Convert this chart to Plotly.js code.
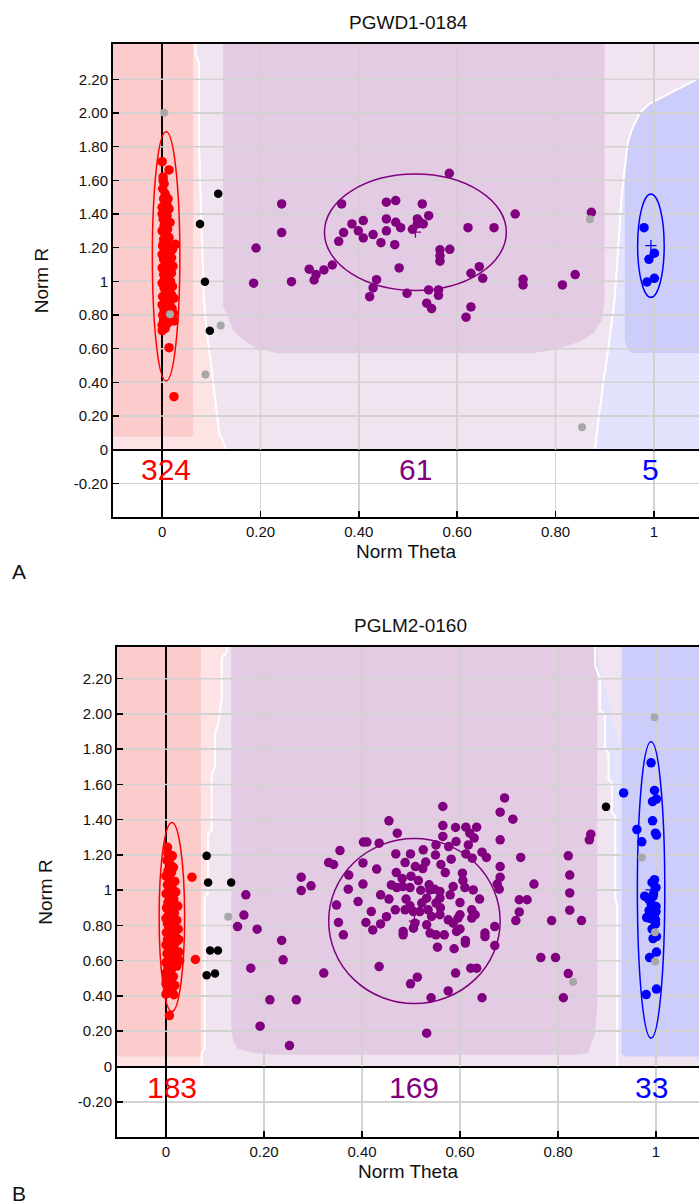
<!DOCTYPE html>
<html><head><meta charset="utf-8">
<script src="https://cdn.plot.ly/plotly-3.0.1.min.js"></script>
<style>html,body{margin:0;padding:0;background:#fff}#chart{width:699px;height:1204px}</style>
</head><body><div id="chart"></div><script>
// ---------------- Panel A : PGWD1-0184 ----------------
const A_title = 'PGWD1-0184';
const A_red_x = [0.000,0.014,0.002,0.004,0.001,0.006,0.003,0.012,0.008,0.000,0.014,0.005,0.010,0.002,0.007,0.016,0.004,0.011,0.000,0.006,0.014,0.003,0.009,0.027,0.001,0.012,0.021,0.005,0.016,0.000,0.009,0.019,0.003,0.012,0.006,0.022,0.000,0.015,0.008,0.019,0.003,0.011,0.005,0.017,0.000,0.009,0.021,0.004,0.013,0.007,0.019,0.001,0.011,0.024,0.005,0.015,0.000,0.009,0.020,0.004,0.013,0.023,0.001,0.008,0.018,0.003,0.024,0.011,0.000,0.006,0.000,0.014,0.024,0.002,0.007,0.010,0.000,0.005,0.010,0.002,0.008,0.014,0.010,0.006];
const A_red_y = [1.711,1.662,1.620,1.580,1.550,1.520,1.490,1.490,1.460,1.440,1.430,1.410,1.390,1.370,1.350,1.350,1.330,1.310,1.300,1.280,1.260,1.250,1.230,1.220,1.210,1.200,1.190,1.180,1.170,1.160,1.150,1.140,1.130,1.120,1.100,1.090,1.080,1.070,1.060,1.050,1.040,1.030,1.010,1.000,0.990,0.980,0.970,0.960,0.950,0.930,0.920,0.910,0.900,0.900,0.880,0.870,0.860,0.850,0.840,0.830,0.820,0.810,0.800,0.790,0.780,0.770,0.765,0.750,0.740,0.720,0.707,0.606,0.315,1.600,1.500,1.450,1.400,1.320,1.270,1.220,1.110,1.000,0.940,0.820];
const A_purple_x = [0.584,0.243,0.243,0.191,0.186,0.263,0.299,0.313,0.309,0.329,0.346,0.359,0.369,0.365,0.386,0.399,0.409,0.409,0.429,0.445,0.456,0.456,0.456,0.475,0.475,0.485,0.473,0.509,0.519,0.519,0.531,0.529,0.542,0.482,0.436,0.429,0.422,0.498,0.542,0.562,0.562,0.538,0.548,0.565,0.565,0.565,0.585,0.622,0.675,0.718,0.628,0.645,0.652,0.628,0.618,0.734,0.734,0.814,0.840,0.873,0.523];
const A_purple_y = [1.642,1.460,1.290,1.198,0.989,0.998,1.072,1.040,1.008,1.068,1.097,1.238,1.290,1.460,1.341,1.300,1.361,1.258,1.278,1.230,1.300,1.371,1.470,1.480,1.351,1.319,1.218,1.309,1.371,1.341,1.341,1.460,1.390,1.080,1.010,0.961,0.909,0.929,0.949,0.949,0.917,0.870,0.838,1.187,1.151,1.120,1.190,1.319,1.319,1.400,1.048,1.087,1.018,0.848,0.787,1.012,0.979,0.979,1.040,1.410,1.355];
const A_blue_x = [0.980,1.001,0.990,0.986,1.001];
const A_blue_y = [1.319,1.167,1.131,0.996,1.018];
const A_black_x = [0.114,0.077,0.087,0.097];
const A_black_y = [1.521,1.341,0.998,0.707];
const A_gray_x = [0.004,0.016,0.088,0.119,0.870,0.854];
const A_gray_y = [2.002,0.805,0.446,0.737,1.369,0.133];
const A_center_x = [0.008,0.515,0.994];
const A_center_y = [1.148,1.292,1.212];
const A_ell_rx = [0.028,0.185,0.027];
const A_ell_ry = [0.740,0.346,0.307];
const A_counts = ['324','61','5'];
// background regions (theta, R vertices)
const A_bndL_x = [0.068,0.068,0.075,0.075,0.078,0.085,0.091,0.100,0.108,0.116,0.131];
const A_bndL_y = [2.410,2.340,2.300,1.820,1.500,0.889,0.692,0.493,0.295,0.097,0.000];
const A_bndR_x = [0.880,0.888,0.897,0.907,0.920,0.924,0.934,0.941,0.947,0.955,0.971,0.992,1.032,1.092];
const A_bndR_y = [0.000,0.194,0.396,0.592,0.889,1.050,1.483,1.680,1.822,1.900,2.000,2.058,2.117,2.207];
const A_pinkD_x = [-0.1,0.058,0.063,0.063,-0.1];
const A_pinkD_y = [0.077,0.077,0.090,2.410,2.410];
const A_purpD_x = [0.124,0.124,0.131,0.144,0.165,0.192,0.233,0.755,0.802,0.850,0.877,0.894,0.900,0.900];
const A_purpD_y = [2.410,0.850,0.810,0.711,0.652,0.602,0.573,0.573,0.597,0.642,0.692,0.771,0.889,2.410];
const A_blueD_x = [0.941,0.946,0.955,1.092,1.092,1.032,0.992,0.971,0.955,0.947,0.941];
const A_blueD_y = [0.650,0.600,0.575,0.575,2.207,2.117,2.058,2.000,1.900,1.822,1.680];

// ---------------- Panel B : PGLM2-0160 ----------------
const B_title = 'PGLM2-0160';
const B_red_x = [0.003,0.013,0.053,0.060,0.016,0.007,0.000,0.002,0.008,0.015,0.004,0.011,0.000,0.007,0.018,0.003,0.012,0.006,0.020,0.000,0.009,0.016,0.004,0.012,0.024,0.001,0.008,0.017,0.005,0.013,0.000,0.022,0.009,0.003,0.015,0.006,0.025,0.011,0.001,0.018,0.007,0.013,0.003,0.022,0.009,0.000,0.016,0.005,0.012,0.026,0.002,0.009,0.019,0.005,0.014,0.000,0.008,0.022,0.004,0.011,0.000,0.007,0.015,0.003,0.010,0.000,0.006,0.012,0.003,0.018,0.026,0.028,0.010,0.004];
const B_red_y = [1.244,1.195,1.074,0.607,0.407,0.289,0.410,1.170,1.150,1.130,1.110,1.100,1.080,1.060,1.050,1.030,1.020,1.000,0.990,0.980,0.960,0.950,0.930,0.920,0.910,0.900,0.880,0.870,0.860,0.850,0.840,0.830,0.820,0.810,0.800,0.790,0.780,0.770,0.760,0.750,0.740,0.730,0.720,0.710,0.700,0.690,0.680,0.670,0.660,0.650,0.640,0.630,0.620,0.610,0.600,0.590,0.580,0.570,0.560,0.550,0.530,0.520,0.510,0.500,0.480,0.470,0.450,0.430,0.420,0.460,0.720,0.600,1.190,1.210];
const B_purple_x = [0.691,0.565,0.682,0.708,0.455,0.565,0.591,0.612,0.634,0.620,0.629,0.472,0.565,0.682,0.403,0.410,0.435,0.592,0.551,0.577,0.525,0.617,0.355,0.469,0.499,0.612,0.645,0.654,0.724,0.625,0.582,0.332,0.342,0.402,0.488,0.561,0.509,0.524,0.682,0.373,0.276,0.605,0.682,0.482,0.515,0.606,0.296,0.402,0.676,0.751,0.471,0.483,0.498,0.537,0.548,0.586,0.610,0.627,0.680,0.276,0.372,0.539,0.559,0.580,0.438,0.163,0.559,0.532,0.522,0.392,0.721,0.737,0.348,0.551,0.498,0.468,0.488,0.505,0.518,0.535,0.559,0.542,0.600,0.624,0.631,0.419,0.159,0.721,0.714,0.787,0.576,0.596,0.624,0.352,0.408,0.438,0.508,0.532,0.586,0.146,0.186,0.671,0.362,0.422,0.484,0.484,0.505,0.539,0.551,0.568,0.593,0.611,0.611,0.651,0.651,0.671,0.554,0.588,0.236,0.239,0.173,0.322,0.435,0.499,0.513,0.591,0.622,0.634,0.765,0.795,0.576,0.541,0.645,0.212,0.266,0.192,0.532,0.252,0.867,0.864,0.821,0.824,0.824,0.824,0.848,0.821,0.811,0.455,0.470,0.500,0.530,0.570,0.600,0.450,0.490,0.520,0.600,0.460,0.560,0.430,0.640,0.550];
const B_purple_y = [1.524,1.475,1.443,1.403,1.394,1.367,1.356,1.358,1.358,1.324,1.296,1.324,1.305,1.286,1.273,1.273,1.267,1.276,1.257,1.248,1.229,1.257,1.225,1.206,1.206,1.206,1.216,1.186,1.186,1.182,1.176,1.157,1.146,1.155,1.157,1.146,1.134,1.123,1.134,1.086,1.074,1.097,1.074,1.066,1.055,1.055,1.025,1.035,1.035,1.035,1.015,1.021,1.015,1.031,1.006,1.021,1.015,1.002,1.006,0.998,1.006,1.002,0.993,0.974,0.974,0.974,0.955,0.955,0.927,0.936,0.946,0.946,0.916,0.927,0.912,0.889,0.889,0.879,0.879,0.889,0.861,0.851,0.861,0.889,0.861,0.879,0.859,0.877,0.828,0.828,0.832,0.842,0.842,0.817,0.817,0.809,0.813,0.804,0.813,0.794,0.779,0.794,0.747,0.775,0.766,0.747,0.785,0.757,0.747,0.747,0.766,0.715,0.700,0.757,0.737,0.686,0.677,0.668,0.715,0.605,0.558,0.530,0.567,0.469,0.507,0.530,0.558,0.558,0.618,0.618,0.429,0.390,0.390,0.378,0.378,0.229,0.189,0.119,1.318,1.286,1.195,1.086,0.985,0.887,0.828,0.527,0.390,0.950,1.100,1.080,1.160,1.100,0.930,0.850,0.950,1.000,0.780,1.030,0.900,1.120,0.950,1.200];
const B_blue_x = [0.990,0.934,0.997,0.993,1.001,0.993,0.961,0.999,1.001,0.971,0.992,1.000,0.994,0.977,0.990,1.000,0.986,0.998,0.981,0.999,0.999,0.994,1.001,1.001,0.987,0.980,1.001,0.995,0.985,1.000,0.992,0.997,0.988];
const B_blue_y = [1.723,1.552,1.566,1.503,1.517,1.394,1.344,1.324,1.313,1.275,1.044,1.015,0.964,0.966,0.923,0.908,0.885,0.870,0.845,0.832,0.809,0.726,0.737,0.649,0.618,0.408,0.439,0.980,0.950,0.880,0.780,1.060,0.840];
const B_black_x = [0.083,0.086,0.133,0.090,0.106,0.083,0.100,0.898];
const B_black_y = [1.195,1.044,1.044,0.658,0.658,0.518,0.528,1.473];
const B_gray_x = [0.127,0.831,0.971,0.997,0.998,0.998];
const B_gray_y = [0.849,0.479,1.186,1.982,0.762,0.596];
const B_center_x = [0.012,0.507,0.990];
const B_center_y = [0.848,0.825,1.002];
const B_ell_rx = [0.026,0.175,0.028];
const B_ell_ry = [0.536,0.468,0.841];
const B_counts = ['183','169','33'];
const B_bndL_x = [0.124,0.124,0.114,0.114,0.107,0.100,0.100,0.093,0.093,0.086,0.086,0.079,0.079,0.073,0.073];
const B_bndL_y = [2.380,2.350,2.320,2.100,1.950,1.890,1.700,1.660,1.340,1.320,0.985,0.960,0.100,0.080,0.000];
const B_bndR_x = [0.876,0.876,0.886,0.886,0.896,0.896,0.903,0.903,0.910,0.910,0.917,0.917,0.921,0.921];
const B_bndR_y = [2.380,2.270,2.200,2.020,2.000,1.800,1.780,1.630,1.610,1.440,1.420,0.950,0.900,0.000];
const B_pinkD_x = [-0.1,0.066,0.071,0.071,-0.1];
const B_pinkD_y = [0.057,0.057,0.070,2.380,2.380];
const B_purpD_x = [0.133,0.133,0.137,0.146,0.178,0.226,0.845,0.862,0.876,0.880,0.880];
const B_purpD_y = [2.380,0.227,0.150,0.100,0.076,0.066,0.066,0.080,0.190,0.340,2.380];
const B_blueD_x = [0.930,0.933,0.940,1.088,1.088,0.930];
const B_blueD_y = [0.075,0.062,0.057,0.057,2.380,2.380];

// ---------------- styling ----------------
const FONT = 'Liberation Sans, Arial, sans-serif';
const C = {red:'#ff0000', purple:'#800080', blue:'#0000ff', black:'#000000', gray:'#a8a8a8'};
const F = {lav:'#f0e4f0', pinkL:'#fde3e3', pinkD:'#fccbcb', purpD:'#e3cce3', blueL:'#e3e3fd', blueD:'#cccdfb'};
const GRID = '#d2d2d2';
const clusterCols = [C.red, C.purple, C.blue];
const yTickVals = [-0.2,0,0.2,0.4,0.6,0.8,1,1.2,1.4,1.6,1.8,2.0,2.2];
const yTickText = ['-0.20','0','0.20','0.40','0.60','0.80','1','1.20','1.40','1.60','1.80','2.00','2.20'];
const xTickVals = [0,0.2,0.4,0.6,0.8,1];
const xTickText = ['0','0.20','0.40','0.60','0.80','1'];

function pathOf(xs, ys, close){
  let p = 'M' + xs.map((x,i)=> x + ',' + ys[i]).join(' L');
  return close ? p + ' Z' : p;
}
function fillShape(xs, ys, col, xr, yr){
  return {type:'path', path:pathOf(xs,ys,true), xref:xr, yref:yr, fillcolor:col, line:{width:0}, layer:'below'};
}
function lineShape(xs, ys, xr, yr){
  return {type:'path', path:pathOf(xs,ys,false), xref:xr, yref:yr, line:{color:'#ffffff', width:2}, layer:'below'};
}

function panel(P, xr, yr, xmin, xmax, ytop, sfx){
  const traces = [], shapes = [], ann = [];
  // regions
  shapes.push(fillShape([xmin,xmax,xmax,xmin],[0,0,ytop,ytop],F.lav,xr,yr));
  shapes.push(fillShape([xmin].concat(P.bndL_x,[xmin]), [ytop].concat(P.bndL_y,[0]), F.pinkL, xr, yr));
  shapes.push(fillShape(P.bndR_x.concat([xmax,xmax]), P.bndR_y.concat([ytop,0]), F.blueL, xr, yr));
  shapes.push(fillShape(P.pinkD_x, P.pinkD_y, F.pinkD, xr, yr));
  shapes.push(fillShape(P.purpD_x, P.purpD_y, F.purpD, xr, yr));
  shapes.push(fillShape(P.blueD_x, P.blueD_y, F.blueD, xr, yr));
  shapes.push(lineShape(P.bndL_x, P.bndL_y, xr, yr));
  shapes.push(lineShape(P.bndR_x, P.bndR_y, xr, yr));
  // grid lines drawn over the region fills
  yTickVals.forEach(v=>{ if(v>0) shapes.push({type:'line', xref:xr, yref:yr, x0:xmin, x1:xmax, y0:v, y1:v, line:{color:GRID, width:1.5}, layer:'between'}); });
  xTickVals.forEach(v=>{ if(v!==0) shapes.push({type:'line', xref:xr, yref:yr, x0:v, x1:v, y0:0, y1:ytop, line:{color:GRID, width:1.5}, layer:'between'}); });
  // ellipses
  for(let i=0;i<3;i++){
    shapes.push({type:'circle', xref:xr, yref:yr, layer:'between',
      x0:P.cx[i]-P.rx[i], x1:P.cx[i]+P.rx[i], y0:P.cy[i]-P.ry[i], y1:P.cy[i]+P.ry[i],
      line:{color:clusterCols[i], width:1.5}, fillcolor:'rgba(0,0,0,0)'});
  }
  const mk = (x,y,col,size,name)=>({type:'scatter', mode:'markers', x:x, y:y, xaxis:'x'+sfx, yaxis:'y'+sfx,
      name:name, showlegend:false, marker:{color:col, size:size, line:{width:0}}, hoverinfo:'x+y'});
  traces.push(mk(P.red_x,P.red_y,C.red,9.5,'AA'));
  traces.push(mk(P.purple_x,P.purple_y,C.purple,9.5,'AB'));
  traces.push(mk(P.blue_x,P.blue_y,C.blue,9.5,'BB'));
  traces.push(mk(P.black_x,P.black_y,C.black,8.5,'NC'));
  traces.push(mk(P.gray_x,P.gray_y,C.gray,8,'Excl'));
  traces.push({type:'scatter', mode:'markers', x:P.cx, y:P.cy, xaxis:'x'+sfx, yaxis:'y'+sfx, showlegend:false,
      marker:{symbol:'cross-thin-open', size:8, color:clusterCols, line:{width:1.3, color:clusterCols}}, hoverinfo:'skip'});
  for(let i=0;i<3;i++){
    ann.push({xref:xr, yref:yr, x:P.cx[i], y:-0.12, text:P.counts[i], showarrow:false,
      font:{family:FONT, size:30, color:clusterCols[i]}, xanchor:'center', yanchor:'middle'});
  }
  return {traces, shapes, ann};
}

const PA = {red_x:A_red_x, red_y:A_red_y, purple_x:A_purple_x, purple_y:A_purple_y, blue_x:A_blue_x, blue_y:A_blue_y,
  black_x:A_black_x, black_y:A_black_y, gray_x:A_gray_x, gray_y:A_gray_y, cx:A_center_x, cy:A_center_y, rx:A_ell_rx, ry:A_ell_ry,
  counts:A_counts, bndL_x:A_bndL_x, bndL_y:A_bndL_y, bndR_x:A_bndR_x, bndR_y:A_bndR_y, pinkD_x:A_pinkD_x, pinkD_y:A_pinkD_y,
  purpD_x:A_purpD_x, purpD_y:A_purpD_y, blueD_x:A_blueD_x, blueD_y:A_blueD_y};
const PB = {red_x:B_red_x, red_y:B_red_y, purple_x:B_purple_x, purple_y:B_purple_y, blue_x:B_blue_x, blue_y:B_blue_y,
  black_x:B_black_x, black_y:B_black_y, gray_x:B_gray_x, gray_y:B_gray_y, cx:B_center_x, cy:B_center_y, rx:B_ell_rx, ry:B_ell_ry,
  counts:B_counts, bndL_x:B_bndL_x, bndL_y:B_bndL_y, bndR_x:B_bndR_x, bndR_y:B_bndR_y, pinkD_x:B_pinkD_x, pinkD_y:B_pinkD_y,
  purpD_x:B_purpD_x, purpD_y:B_purpD_y, blueD_x:B_blueD_x, blueD_y:B_blueD_y};

const W = 699, H = 1204;
const A = panel(PA, 'x', 'y', -0.1, 1.0918, 2.41, '');
const B = panel(PB, 'x2', 'y2', -0.1, 1.0878, 2.38, '2');

function xax(dom, rng){
  return {domain:dom, range:rng, tickvals:xTickVals, ticktext:xTickText, ticks:'inside', ticklen:6, tickwidth:1.5, tickcolor:'#000',
    showgrid:true, gridcolor:GRID, gridwidth:1.5, zeroline:true, zerolinecolor:'#000', zerolinewidth:1.5,
    showline:true, linecolor:'#000', linewidth:2, mirror:true, fixedrange:true,
    tickfont:{family:FONT, size:15, color:'#111'},
    title:{text:'Norm Theta', font:{family:FONT, size:19, color:'#111'}, standoff:6}};
}
function yax(dom, rng, anchor){
  return {domain:dom, range:rng, anchor:anchor, tickvals:yTickVals, ticktext:yTickText, ticks:'inside', ticklen:6, tickwidth:1.5, tickcolor:'#000',
    showgrid:true, gridcolor:GRID, gridwidth:1.5, zeroline:true, zerolinecolor:'#000', zerolinewidth:2,
    showline:true, linecolor:'#000', linewidth:2, mirror:false, fixedrange:true,
    tickfont:{family:FONT, size:15, color:'#111'},
    title:{text:'Norm R', font:{family:FONT, size:19, color:'#111'}, standoff:20}};
}

const layout = {
  width:W, height:H, margin:{l:0, r:0, t:0, b:0}, paper_bgcolor:'#fff', plot_bgcolor:'#fff', showlegend:false,
  font:{family:FONT, color:'#111'},
  xaxis: Object.assign(xax([113/W, 1], [-0.1, 1.0918]), {anchor:'y'}),
  yaxis: yax([1-517/H, 1-44/H], [-0.4, 2.41], 'x'),
  xaxis2: Object.assign(xax([117/W, 1], [-0.1, 1.0878]), {anchor:'y2'}),
  yaxis2: yax([1-1137/H, 1-647/H], [-0.4, 2.38], 'x2'),
  shapes: A.shapes.concat(B.shapes),
  annotations: A.ann.concat(B.ann).concat([
    {xref:'paper', yref:'paper', x:408/W, y:1-23/H, text:A_title, showarrow:false, xanchor:'center', yanchor:'middle', font:{family:FONT, size:19, color:'#111'}},
    {xref:'paper', yref:'paper', x:410/W, y:1-625/H, text:B_title, showarrow:false, xanchor:'center', yanchor:'middle', font:{family:FONT, size:19, color:'#111'}},
    {xref:'paper', yref:'paper', x:19/W, y:1-571/H, text:'A', showarrow:false, xanchor:'center', yanchor:'middle', font:{family:FONT, size:21, color:'#111'}},
    {xref:'paper', yref:'paper', x:19/W, y:1-1193/H, text:'B', showarrow:false, xanchor:'center', yanchor:'middle', font:{family:FONT, size:21, color:'#111'}}
  ])
};

Plotly.newPlot('chart', A.traces.concat(B.traces), layout, {displayModeBar:false, staticPlot:true});
</script></body></html>
